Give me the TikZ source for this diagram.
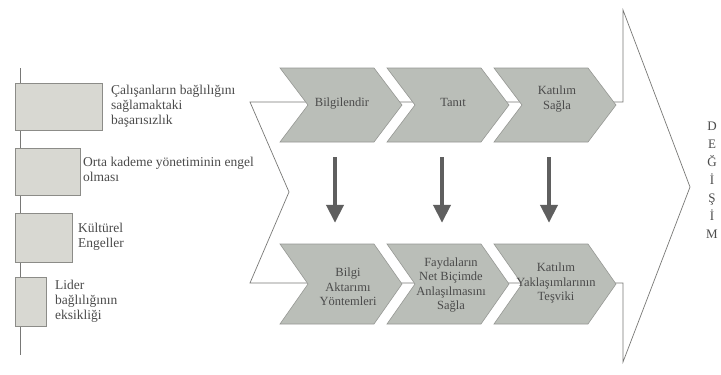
\documentclass[tikz,border=0pt]{standalone}
\usepackage{fontspec}
\setmainfont{Liberation Serif}
\usetikzlibrary{arrows.meta}
\definecolor{chev}{RGB}{186,190,184}
\definecolor{chevline}{RGB}{150,152,148}
\definecolor{boxfill}{RGB}{216,216,210}
\definecolor{boxline}{RGB}{140,140,136}
\definecolor{linegray}{RGB}{120,120,118}
\definecolor{arr}{RGB}{95,95,95}
\definecolor{txt}{RGB}{75,75,75}
\begin{document}
\begin{tikzpicture}[x=1pt,y=-1pt,
  outline/.style={draw=linegray, line width=0.7pt},
  chevron/.style={draw=chevline, fill=chev, line width=0.6pt},
  lbox/.style={draw=boxline, fill=boxfill, line width=0.8pt, anchor=north west, inner sep=0},
  ltext/.style={anchor=north west, align=left, font=\fontsize{13.5}{15}\selectfont, text=txt, inner sep=0},
  ctext/.style={align=center, font=\fontsize{12.5}{14.5}\selectfont, text=txt, inner sep=0},
  downarrow/.style={draw=arr, line width=4pt, -{Triangle[width=17pt,length=18pt]}},
  ghost/.style={inner sep=0, draw=none}
]
\useasboundingbox (0,0) rectangle (721,375);
\fill[white] (0,0) rectangle (721,375);

% big arrow outline
\draw[outline] (250,102) -- (623,102) -- (623,10) -- (690,187) -- (623,362) -- (623,283) -- (250,283) -- (289,192) -- cycle;

% chevrons
\foreach \x/\i in {280/1,387/2,494/3}{
  \draw[chevron] (\x,68) -- ++(94,0) -- ++(28,37) -- ++(-28,37) -- ++(-94,0) -- ++(28,-37) -- cycle;
  \node[ghost, minimum width=122pt, minimum height=74pt] (T\i) at (\x+61,105) {};
  \draw[chevron] (\x,244) -- ++(94,0) -- ++(28,40) -- ++(-28,40) -- ++(-94,0) -- ++(28,-40) -- cycle;
  \node[ghost, minimum width=122pt, minimum height=80pt] (B\i) at (\x+61,284) {};
}

% chevron texts
\node[ctext] (t1) at (342,104) {Bilgilendir};
\node[ctext] (t2) at (453,102) {Tanıt};
\node[ctext] (t3) at (557,99) {Katılım\\Sağla};
\node[ctext] (b1) at (348,287) {Bilgi\\Aktarımı\\Yöntemleri};
\node[ctext] (b2) at (451,285) {Faydaların\\Net Biçimde\\Anlaşılmasını\\Sağla};
\node[ctext] (b3) at (556,283) {Katılım\\Yaklaşımlarının\\Teşviki};

% down arrows
\foreach \i in {1,2,3}{
  \draw[downarrow, shorten <=15pt, shorten >=21pt] ([xshift=-6pt]T\i.south) -- ([xshift=-6pt]B\i.north);
}

% left spine and boxes
\coordinate (s0) at (20,68);
\coordinate (s1) at (20,355);
\draw[draw=linegray, line width=0.7pt] (s0) -- (s1);
\node[lbox, minimum width=87pt, minimum height=47pt] (L1) at (15,83) {};
\node[lbox, minimum width=65pt, minimum height=47pt] (L2) at (15,148) {};
\node[lbox, minimum width=57pt, minimum height=49pt] (L3) at (15,213) {};
\node[lbox, minimum width=31pt, minimum height=49pt] (L4) at (15,277) {};

\node[ltext] (x1) at (111,85) {Çalışanların bağlılığını\\sağlamaktaki\\başarısızlık};
\node[ltext] (x2) at (83,157) {Orta kademe yönetiminin engel\\olması};
\node[ltext] (x3) at (78,223) {Kültürel\\Engeller};
\node[ltext] (x4) at (55,280) {Lider\\bağlılığının\\eksikliği};

% vertical word
\node[align=center, font=\fontsize{13}{18}\selectfont, text=txt, inner sep=0] (dg) at (712,180) {D\\E\\Ğ\\İ\\Ş\\İ\\M};
\end{tikzpicture}
\end{document}
